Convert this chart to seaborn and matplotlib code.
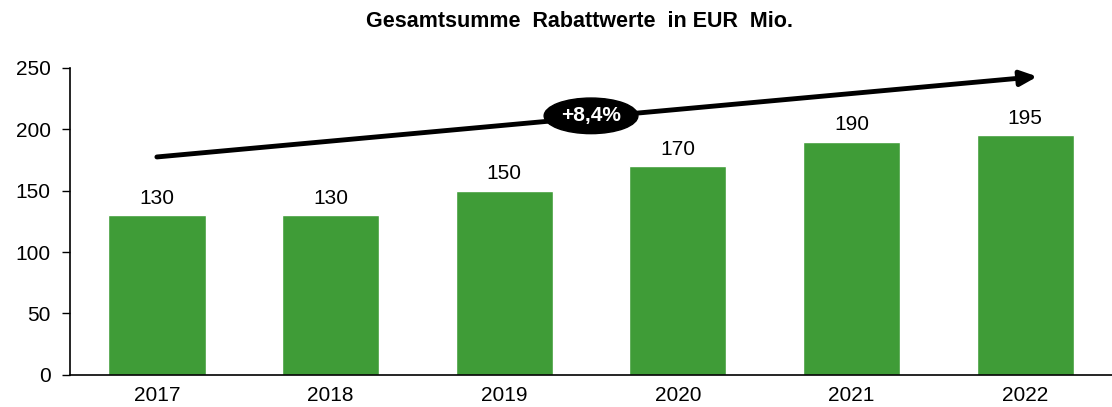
import numpy as np
import pandas as pd
import matplotlib
matplotlib.use("Agg")
import matplotlib.pyplot as plt
import seaborn as sns
from matplotlib.patches import Ellipse

# Daten
jahre = ["2017", "2018", "2019", "2020", "2021", "2022"]
rabattwerte = [130, 130, 150, 170, 190, 195]
y_ticks = [0, 50, 100, 150, 200, 250]
cagr_label = "+8,4%"

sns.set_style("white")
plt.rcParams['font.family'] = ['Liberation Sans', 'DejaVu Sans']
plt.rcParams['text.color'] = 'black'
plt.rcParams['xtick.color'] = 'black'
plt.rcParams['ytick.color'] = 'black'

df = pd.DataFrame({"Jahr": jahre, "Wert": rabattwerte})

fig = plt.figure(figsize=(11.12, 4.07), dpi=100)
ax = fig.add_axes([0.063, 0.079, 0.937, 0.754])

sns.barplot(data=df, x="Jahr", y="Wert", color="#3f9c37", saturation=1,
            width=0.56, ax=ax)

for i, v in enumerate(rabattwerte):
    ax.text(i, v + 6, str(v), ha="center", va="bottom", fontsize=15)

ax.set_ylim(0, 250)
ax.set_xlim(-0.5, 5.5)
ax.set_yticks(y_ticks)
ax.tick_params(axis="y", labelsize=15, length=6, width=1, direction="out", left=True, pad=8)
ax.tick_params(axis="x", labelsize=15, length=0, pad=8)
ax.set_xlabel("")
ax.set_ylabel("")
for s in ["top", "right"]:
    ax.spines[s].set_visible(False)
for s in ["left", "bottom"]:
    ax.spines[s].set_color("black")
    ax.spines[s].set_linewidth(1.2)

# Trendpfeil
ax.annotate("", xy=(5.07, 243), xytext=(0.0, 177.5),
            arrowprops=dict(arrowstyle="-|>,head_length=1.0,head_width=0.45",
                            color="black", lw=3.5, shrinkA=0, shrinkB=0),
            annotation_clip=False)
ax.add_patch(Ellipse((2.5, 211), width=0.54, height=29, color="black", zorder=5))
ax.text(2.5, 211, cagr_label, ha="center", va="center", color="white",
        fontsize=15, fontweight="bold", zorder=6)

fig.suptitle("Gesamtsumme  Rabattwerte  in EUR  Mio.", x=0.521, y=0.972,
             fontsize=15.5, fontweight="bold")

fig.savefig("out.png", dpi=100)
